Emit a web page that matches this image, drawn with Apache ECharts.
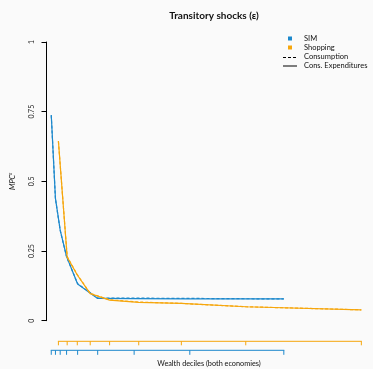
<!DOCTYPE html>
<html><head><meta charset="utf-8">
<script src="https://cdn.jsdelivr.net/npm/echarts@6/dist/echarts.min.js"></script>
<style>html,body{margin:0;padding:0;background:#fafafa}#c{width:373px;height:369px}</style>
</head><body><div id="c"></div>
<script>
// Wealth positions of decile points (arbitrary wealth scale, 0-100)
const simX = [1.65, 2.96, 4.45, 6.45, 9.91, 16.2, 27.63, 45.08, 74.55];
const shopX = [3.89, 6.64, 9.81, 13.86, 19.94, 29.07, 42.43, 62.62, 98.85];
// MPC out of transitory shocks
const simExp = [0.738, 0.439, 0.325, 0.230, 0.132, 0.080, 0.079, 0.078, 0.078];
const simCons = [0.736, 0.437, 0.324, 0.229, 0.133, 0.081, 0.081, 0.080, 0.078];
const shopExp = [0.645, 0.228, 0.164, 0.097, 0.074, 0.066, 0.062, 0.050, 0.039];
const shopCons = [0.643, 0.230, 0.165, 0.098, 0.075, 0.067, 0.062, 0.050, 0.039];
const yTicks = [0, 0.25, 0.5, 0.75, 1];
const legendGroups = ['SIM', 'Shopping'];
const legendLines = ['Consumption', 'Cons. Expenditures'];
const xTitle = 'Wealth deciles (both economies)';

const BLUE = '#1c88cc', ORANGE = '#f6a60c';
const FONT = 'Lato';
const GL = 44, GW = 321, GT = 42, GH = 278.7;
const zip = (xs, ys) => xs.map((x, i) => [x, ys[i]]);

const chart = echarts.init(document.getElementById('c'), null, {renderer: 'canvas'});
const lineSeries = (name, xs, ys, color, type, z) => ({
  name, type: 'line', xAxisIndex: 0, yAxisIndex: 0, data: zip(xs, ys),
  symbol: 'none', lineStyle: {color, width: 1.2, type}, z, silent: true, animation: false
});
// Decile rug axis drawn through the chart's own x scale, offset below the plot
const rugAxis = (name, xs, color, offset, tickLen) => ({
  name, type: 'custom', xAxisIndex: 0, yAxisIndex: 0, clip: false, silent: true,
  data: xs.map((x, i) => [x, i]),
  renderItem: (params, api) => {
    const p = api.coord([api.value(0), 0]);
    const y = p[1] + offset;
    const children = [{type: 'line', shape: {x1: p[0], y1: y, x2: p[0], y2: y + tickLen},
                       style: {stroke: color, lineWidth: 1}}];
    if (params.dataIndex === 0) {
      const q = api.coord([xs[xs.length - 1], 0]);
      children.push({type: 'line', shape: {x1: p[0] - 0.5, y1: y, x2: q[0] + 0.5, y2: y},
                     style: {stroke: color, lineWidth: 1}});
    }
    return {type: 'group', children};
  }
});

chart.setOption({
  backgroundColor: '#fafafa',
  animation: false,
  title: {
    text: 'Transitory shocks (ε)', left: 209, top: 6, textAlign: 'center',
    textStyle: {fontFamily: FONT, fontWeight: 'bold', fontSize: 10, color: '#111'}
  },
  grid: [{left: GL, top: GT, width: GW, height: GH}],
  xAxis: [{type: 'value', min: 0, max: 100, show: false}],
  yAxis: [
    {type: 'value', min: 0, max: 1, interval: 0.25,
     axisLine: {show: true, lineStyle: {color: '#000', width: 1}},
     axisTick: {show: true, length: 4.5, lineStyle: {color: '#000', width: 1}},
     axisLabel: {show: true, rotate: 90, margin: 11, fontFamily: FONT, fontSize: 7, color: '#222',
                 formatter: v => String(v)},
     splitLine: {show: false},
     name: '{i|MPC}{s|ε}', nameLocation: 'middle', nameGap: 29, nameRotate: 90,
     nameTextStyle: {rich: {
       i: {fontFamily: FONT, fontStyle: 'italic', fontSize: 7.5, color: '#111'},
       s: {fontFamily: FONT, fontStyle: 'italic', fontSize: 5, color: '#111', verticalAlign: 'top', padding: [0, 0, 4, 0]}
     }}}
  ],
  graphic: [
    {type: 'rect', shape: {x: 288, y: 36.5, width: 4, height: 4}, style: {fill: BLUE}},
    {type: 'text', x: 304, y: 38.5, style: {text: legendGroups[0], fontFamily: FONT, fontSize: 7.5, fill: '#111', verticalAlign: 'middle'}},
    {type: 'rect', shape: {x: 288, y: 45.5, width: 4, height: 4}, style: {fill: ORANGE}},
    {type: 'text', x: 304, y: 47.5, style: {text: legendGroups[1], fontFamily: FONT, fontSize: 7.5, fill: '#111', verticalAlign: 'middle'}},
    {type: 'line', shape: {x1: 283, y1: 57.5, x2: 297, y2: 57.5}, style: {stroke: '#000', lineWidth: 1, lineDash: [3, 2]}},
    {type: 'text', x: 304, y: 57, style: {text: legendLines[0], fontFamily: FONT, fontSize: 7.5, fill: '#111', verticalAlign: 'middle'}},
    {type: 'line', shape: {x1: 283, y1: 66, x2: 297, y2: 66}, style: {stroke: '#000', lineWidth: 1}},
    {type: 'text', x: 304, y: 65.5, style: {text: legendLines[1], fontFamily: FONT, fontSize: 7.5, fill: '#111', verticalAlign: 'middle'}},
    {type: 'text', x: 209, y: 364, style: {text: xTitle, fontFamily: FONT, fontSize: 7.3, fill: '#111', align: 'center', verticalAlign: 'middle'}}
  ],
  series: [
    lineSeries('SIM Cons. Expenditures', simX, simExp, BLUE, 'solid', 2),
    lineSeries('SIM Consumption', simX, simCons, BLUE, [3, 2], 3),
    lineSeries('Shopping Cons. Expenditures', shopX, shopExp, ORANGE, 'solid', 4),
    lineSeries('Shopping Consumption', shopX, shopCons, ORANGE, [3, 2], 5),
    rugAxis('Shopping deciles', shopX, ORANGE, 20.6, 4),
    rugAxis('SIM deciles', simX, BLUE, 29.6, 4.5)
  ]
});
</script></body></html>
